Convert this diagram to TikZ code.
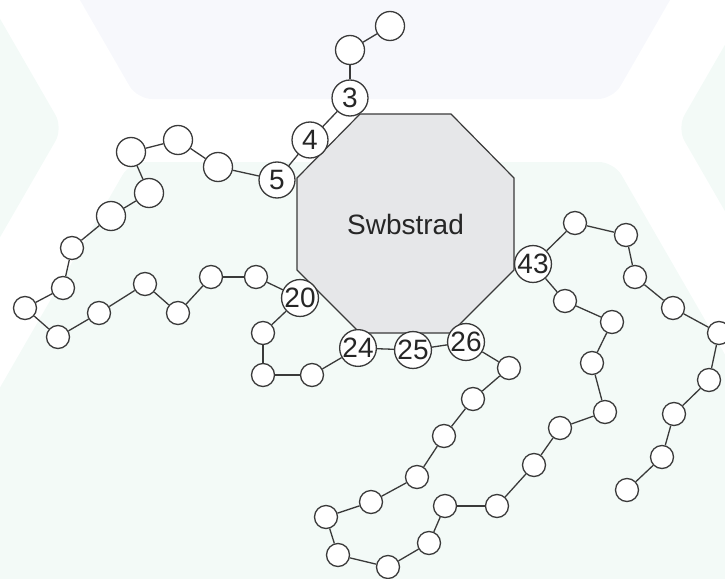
\documentclass[tikz,border=0pt]{standalone}
\usepackage{fontspec}
\setmainfont{Liberation Sans}

\definecolor{hexblue}{HTML}{F7F8FC}
\definecolor{hexmint}{HTML}{F3FAF7}
\definecolor{subgray}{HTML}{E6E7E9}
\definecolor{inkgray}{HTML}{3A3A3A}

\begin{document}
\begin{tikzpicture}[x=1pt, y=-1pt,
    bead/.style={circle, draw=inkgray, line width=1.3pt, fill=white, minimum size=23pt, inner sep=0pt},
    bigbead/.style={bead, minimum size=29pt},
    numbead/.style={bead, minimum size=36pt, font=\fontsize{28}{30}\selectfont, text=black!85},
    link/.style={draw=inkgray, line width=1.3pt},
    hexcell/.style={rounded corners=15pt}
]
    \useasboundingbox (0,0) rectangle (725,578);
    \clip (0,0) rectangle (725,578);

    % Background cells
    \fill[hexblue, hexcell] (-18,-170) -- (137,99) -- (613,99) -- (768,-170) -- cycle;
    \fill[hexmint, hexcell] (-50,-68) -- (63,128) -- (-50,324) -- cycle;
    \fill[hexmint, hexcell] (790,-68) -- (677,128) -- (790,324) -- cycle;
    \fill[hexmint, hexcell] (-134,620) -- (130,162) -- (614,162) -- (878,620) -- cycle;

    % Substrate (octagon)
    \draw[fill=subgray, draw=inkgray, line width=1.2pt]
        (360,114) -- (451,114) -- (514,178) -- (514,270) --
        (451,333) -- (360,333) -- (297,270) -- (297,178) -- cycle;
    \node[font=\fontsize{28}{30}\selectfont, text=black!85] (sub) at (405.5,224) {Swbstrad};

    % Top strand: 3-4-5
    \node[bigbead] (t1) at (390,26) {};
    \node[bigbead] (t2) at (350,50) {};
    \node[numbead] (n3) at (350,98) {3};
    \node[numbead] (n4) at (310,140) {4};
    \node[numbead] (n5) at (277,180) {5};

    % Left loop: 5 to 20
    \node[bigbead] (l1) at (218,167) {};
    \node[bigbead] (l2) at (178,140) {};
    \node[bigbead] (l3) at (131,152) {};
    \node[bigbead] (l4) at (149,193) {};
    \node[bigbead] (l5) at (111,216) {};
    \node[bead] (l6) at (72,248) {};
    \node[bead] (l7) at (63,288) {};
    \node[bead] (l8) at (25,308) {};
    \node[bead] (l9) at (58,337) {};
    \node[bead] (l10) at (99,313) {};
    \node[bead] (l11) at (145,284) {};
    \node[bead] (l12) at (178,313) {};
    \node[bead] (l13) at (211,277) {};
    \node[bead] (l14) at (256,277) {};
    \node[numbead] (n20) at (300,298) {20};

    % Lower strand: 20 to 26
    \node[bead] (d1) at (263,333) {};
    \node[bead] (d2) at (263,375) {};
    \node[bead] (d3) at (312,375) {};
    \node[numbead] (n24) at (358,348) {24};
    \node[numbead] (n25) at (413,350) {25};
    \node[numbead] (n26) at (466,342) {26};

    % Bottom loop: 26 to 43
    \node[bead] (b1) at (509,368) {};
    \node[bead] (b2) at (473,399) {};
    \node[bead] (b3) at (444,436) {};
    \node[bead] (b4) at (417,477) {};
    \node[bead] (b5) at (371,502) {};
    \node[bead] (b6) at (326,517) {};
    \node[bead] (b7) at (338,555) {};
    \node[bead] (b8) at (388,567) {};
    \node[bead] (b9) at (429,543) {};
    \node[bead] (b10) at (445,506) {};
    \node[bead] (b11) at (497,506) {};
    \node[bead] (b12) at (534,465) {};
    \node[bead] (b13) at (560,428) {};
    \node[bead] (b14) at (605,412) {};
    \node[bead] (b15) at (592,363) {};
    \node[bead] (b16) at (612,322) {};
    \node[bead] (b17) at (565,301) {};
    \node[numbead] (n43) at (533,264) {43};

    % Right tail from 43
    \node[bead] (r1) at (575,223) {};
    \node[bead] (r2) at (626,235) {};
    \node[bead] (r3) at (635,277) {};
    \node[bead] (r4) at (673,308) {};
    \node[bead] (r5) at (719,333) {};
    \node[bead] (r6) at (709,380) {};
    \node[bead] (r7) at (674,414) {};
    \node[bead] (r8) at (662,457) {};
    \node[bead] (r9) at (627,490) {};

    % Bonds
    \foreach \a/\b in {t1/t2, t2/n3, n3/n4, n4/n5,
        n5/l1, l1/l2, l2/l3, l3/l4, l4/l5, l5/l6, l6/l7, l7/l8, l8/l9,
        l9/l10, l10/l11, l11/l12, l12/l13, l13/l14, l14/n20,
        n20/d1, d1/d2, d2/d3, d3/n24, n24/n25, n25/n26,
        n26/b1, b1/b2, b2/b3, b3/b4, b4/b5, b5/b6, b6/b7, b7/b8, b8/b9,
        b9/b10, b10/b11, b11/b12, b12/b13, b13/b14, b14/b15, b15/b16,
        b16/b17, b17/n43,
        n43/r1, r1/r2, r2/r3, r3/r4, r4/r5, r5/r6, r6/r7, r7/r8, r8/r9} {
        \draw[link] (\a) -- (\b);
    }
\end{tikzpicture}
\end{document}
